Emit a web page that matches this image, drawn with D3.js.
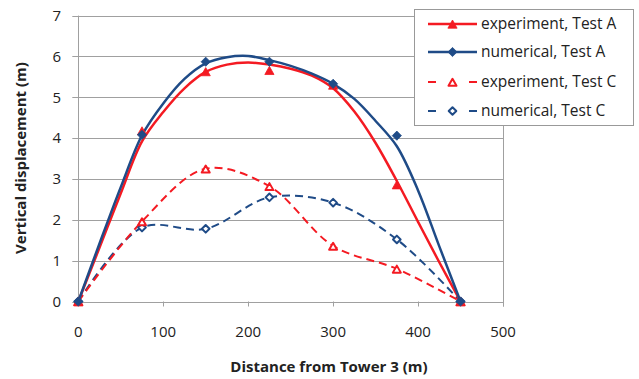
<!DOCTYPE html>
<html><head><meta charset="utf-8">
<script src="https://cdn.jsdelivr.net/npm/d3@7"></script>
<style>body{margin:0;background:#fff;} svg{display:block;}</style>
</head><body>
<svg id="c" width="639" height="379"></svg>
<script>
// measured points (markers)
const distances = [0, 75, 150, 225, 300, 375, 450];
const experimentA = [0, 4.18, 5.63, 5.66, 5.30, 2.86, 0];
const numericalA  = [0, 4.08, 5.87, 5.87, 5.33, 4.06, 0];
const experimentC = [0, 1.96, 3.25, 2.82, 1.36, 0.80, 0];
const numericalC  = [0, 1.81, 1.78, 2.55, 2.42, 1.52, 0];
// smoothed Test A curves (every 25 m)
const curveX     = [0, 25, 50, 75, 100, 125, 150, 175, 200, 225, 250, 275, 300, 325, 350, 375, 400, 425, 450];
const expACurveY = [0, 1.32, 2.65, 3.92, 4.64, 5.22, 5.62, 5.80, 5.85, 5.80, 5.70, 5.53, 5.22, 4.65, 3.88, 2.95, 1.95, 0.96, 0];
const numACurveY = [0, 1.42, 2.80, 4.07, 4.85, 5.45, 5.83, 5.98, 6.01, 5.91, 5.77, 5.58, 5.33, 4.96, 4.42, 3.80, 2.72, 1.35, 0];

const seriesNames = ["experiment, Test A", "numerical, Test A", "experiment, Test C", "numerical, Test C"];
const xTicks = [0, 100, 200, 300, 400, 500];
const yTicks = [0, 1, 2, 3, 4, 5, 6, 7];

const RED = "#f41a22", BLUE = "#1f4b87", GRID = "#a0a0a0";
const FONT = "'Open Sans', 'Noto Sans', sans-serif";
const svg = d3.select("#c");
const x = d3.scaleLinear().domain([0, 500]).range([78.3, 503]);
const y = d3.scaleLinear().domain([0, 7]).range([301.5, 15.6]);

// grid
svg.append("g").selectAll("line").data(yTicks).join("line")
  .attr("x1", x(0) - 6).attr("x2", x(500))
  .attr("y1", d => Math.round(y(d)) + 0.5).attr("y2", d => Math.round(y(d)) + 0.5)
  .attr("stroke", GRID).attr("stroke-width", 1);
svg.append("line").attr("x1", Math.round(x(500)) + 0.5).attr("x2", Math.round(x(500)) + 0.5)
  .attr("y1", y(7)).attr("y2", y(0) + 5).attr("stroke", GRID);
svg.append("line").attr("x1", Math.round(x(0)) + 0.5).attr("x2", Math.round(x(0)) + 0.5)
  .attr("y1", y(7)).attr("y2", y(0)).attr("stroke", GRID);
svg.append("g").selectAll("line").data(xTicks.slice(1)).join("line")
  .attr("x1", d => Math.round(x(d)) + 0.5).attr("x2", d => Math.round(x(d)) + 0.5)
  .attr("y1", y(0)).attr("y2", y(0) + 5).attr("stroke", GRID);

// tick labels
svg.append("g").selectAll("text").data(yTicks).join("text")
  .attr("x", 61).attr("y", d => y(d)).attr("dy", "0.35em")
  .attr("text-anchor", "end").attr("font-family", FONT).attr("font-size", 15).attr("fill", "#222")
  .text(d => d);
svg.append("g").selectAll("text").data(xTicks).join("text")
  .attr("x", d => x(d)).attr("y", 332).attr("dy", "0.35em")
  .attr("text-anchor", "middle").attr("font-family", FONT).attr("font-size", 15).attr("fill", "#222")
  .text(d => d);

// axis titles
svg.append("text").attr("x", 329).attr("y", 367).attr("dy", "0.35em")
  .attr("text-anchor", "middle").attr("font-family", FONT).attr("font-size", 15)
  .attr("font-weight", "bold").attr("fill", "#222").text("Distance from Tower 3 (m)");
svg.append("text").attr("transform", "translate(21,158) rotate(-90)").attr("dy", "0.35em")
  .attr("text-anchor", "middle").attr("font-family", FONT).attr("font-size", 15)
  .attr("font-weight", "bold").attr("fill", "#222").text("Vertical displacement (m)");

const series = [
  {name: seriesNames[0], vals: experimentA, cx: curveX, cy: expACurveY, color: RED, dash: null, marker: "tri", fill: true},
  {name: seriesNames[1], vals: numericalA, cx: curveX, cy: numACurveY, color: BLUE, dash: null, marker: "dia", fill: true},
  {name: seriesNames[2], vals: experimentC, cx: distances, cy: experimentC, color: RED, dash: "8,5", marker: "tri", fill: false},
  {name: seriesNames[3], vals: numericalC, cx: distances, cy: numericalC, color: BLUE, dash: "8,5", marker: "dia", fill: false}
];

const line = d3.line().x(d => x(d[0])).y(d => y(d[1])).curve(d3.curveCatmullRom.alpha(0.5));

function drawMarker(g, cx, cy, s) {
  const path = s.marker === "tri"
    ? (s.fill ? "M0,-5L4.6,3.2L-4.6,3.2Z" : "M0,-4.2L4,2.8L-4,2.8Z")
    : (s.fill ? "M0,-4.6L4.6,0L0,4.6L-4.6,0Z" : "M0,-3.8L3.8,0L0,3.8L-3.8,0Z");
  g.append("path").attr("d", path)
    .attr("transform", `translate(${cx},${cy + (s.marker === "tri" ? 1 : 0)})`)
    .attr("fill", s.fill ? s.color : "#fff")
    .attr("stroke", s.color).attr("stroke-width", s.fill ? 0.8 : 2)
    .attr("stroke-linejoin", "round");
}

const plot = svg.append("g");
[series[3], series[2], series[0], series[1]].forEach(s => {
  const pts = s.cx.map((d, i) => [d, s.cy[i]]);
  plot.append("path").datum(pts).attr("d", line)
    .attr("fill", "none").attr("stroke", s.color)
    .attr("stroke-width", s.dash ? 2 : 2.5)
    .attr("stroke-dasharray", s.dash);
});
[series[3], series[2], series[0], series[1]].forEach(s => {
  const g = plot.append("g");
  distances.forEach((d, i) => drawMarker(g, x(d), y(s.vals[i]), s));
});

// legend
const lg = svg.append("g");
lg.append("rect").attr("x", 414.5).attr("y", 9.5).attr("width", 219).attr("height", 116)
  .attr("fill", "#fff").attr("stroke", "#999").attr("stroke-width", 1);
const rowsY = [24, 52, 82, 111];
series.forEach((s, i) => {
  const yy = rowsY[i];
  if (s.dash) {
    lg.append("line").attr("x1", 428).attr("x2", 436).attr("y1", yy).attr("y2", yy)
      .attr("stroke", s.color).attr("stroke-width", 2);
    lg.append("line").attr("x1", 469).attr("x2", 477).attr("y1", yy).attr("y2", yy)
      .attr("stroke", s.color).attr("stroke-width", 2);
  } else {
    lg.append("line").attr("x1", 428).attr("x2", 477).attr("y1", yy).attr("y2", yy)
      .attr("stroke", s.color).attr("stroke-width", 2.5);
  }
  drawMarker(lg, 452.5, yy, s);
  lg.append("text").attr("x", 481).attr("y", yy).attr("dy", "0.35em")
    .attr("font-family", FONT).attr("font-size", 15.5).attr("fill", "#222").text(s.name);
});
</script>
</body></html>
